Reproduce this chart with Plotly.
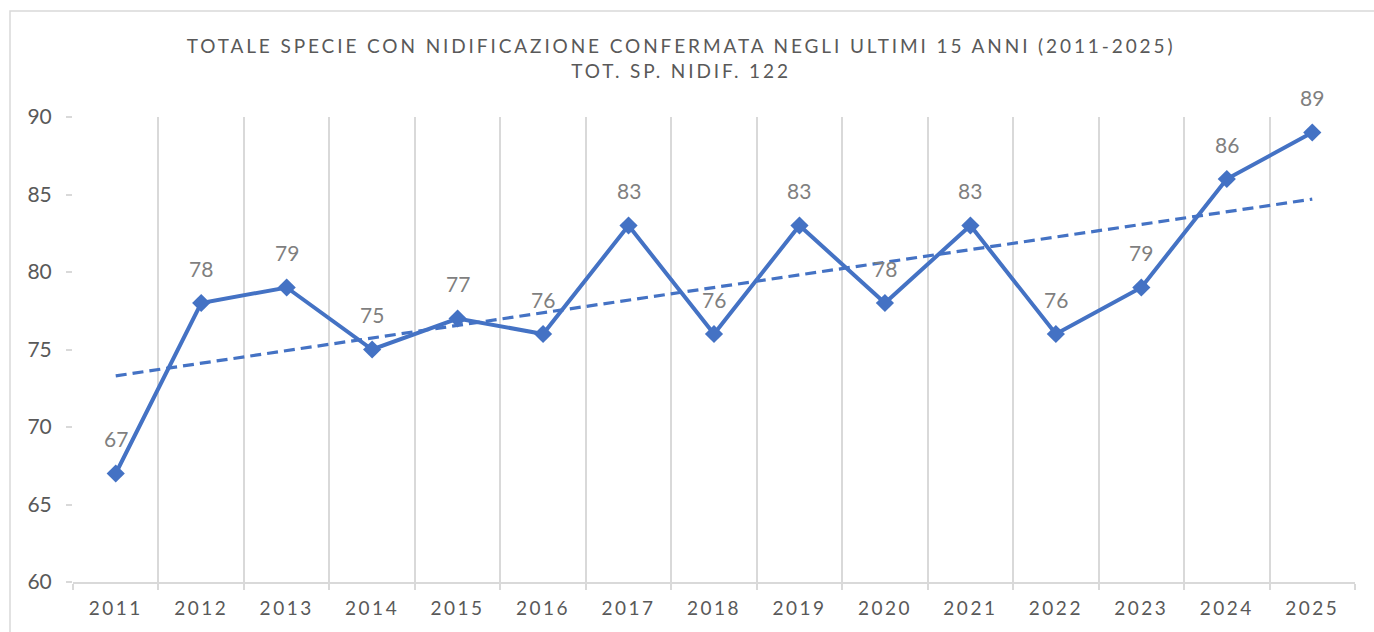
import numpy as np
import plotly.graph_objects as go

years = ["2011", "2012", "2013", "2014", "2015", "2016", "2017", "2018",
         "2019", "2020", "2021", "2022", "2023", "2024", "2025"]
species = [67, 78, 79, 75, 77, 76, 83, 76, 83, 78, 83, 76, 79, 86, 89]
title_line1 = "TOTALE SPECIE CON NIDIFICAZIONE CONFERMATA NEGLI ULTIMI 15 ANNI (2011-2025)"
title_line2 = "TOT. SP. NIDIF. 122"
y_ticks = [60, 65, 70, 75, 80, 85, 90]

BLUE = "#4472C4"
GRID = "#D9D9D9"
TXT = "#595959"
LBL = "#7F7F7F"
FONT = "Lato"

W, H = 1374, 632
L, R, T, B = 73, 19, 117, 50
pw, ph = W - L - R, H - T - B

# linear trendline (least squares on the data, as the spreadsheet trendline)
idx = np.arange(len(species))
slope, intercept = np.polyfit(idx, species, 1)
trend = [intercept + slope * i for i in idx]

fig = go.Figure()
fig.add_trace(go.Scatter(
    x=years, y=trend, mode="lines",
    line=dict(color=BLUE, width=3.2, dash="11px,6px"),
    hoverinfo="skip", showlegend=False,
))
fig.add_trace(go.Scatter(
    x=years, y=species, mode="lines+markers",
    line=dict(color=BLUE, width=4),
    marker=dict(symbol="diamond", size=14, color=BLUE),
    showlegend=False,
))

for i, v in enumerate(species):
    fig.add_annotation(x=i, y=v, text=str(v), showarrow=False, yshift=35,
                       font=dict(family=FONT, size=21, color=LBL))

# outer chart border
fig.add_shape(type="rect", xref="paper", yref="paper",
              x0=(10 - L) / pw, x1=(W + 10 - L) / pw,
              y0=(H - B - (H + 10)) / ph, y1=(H - B - 11) / ph,
              line=dict(color=GRID, width=1.5), fillcolor="rgba(0,0,0,0)", layer="below")

fig.update_layout(
    width=W, height=H,
    margin=dict(l=L, r=R, t=T, b=B),
    paper_bgcolor="white", plot_bgcolor="white",
    title=dict(text=title_line1 + "<br>" + title_line2,
               x=681 / W, xref="container", xanchor="center",
               y=1 - 53 / H, yref="container", yanchor="middle",
               font=dict(family=FONT, size=19, color=TXT)),
    xaxis=dict(type="category", range=[-0.5, len(years) - 0.5],
               tickson="boundaries", showgrid=True, gridcolor=GRID, gridwidth=1.5,
               showline=True, linecolor=GRID, linewidth=1.5,
               ticks="outside", ticklen=6, tickcolor=GRID, tickwidth=1.5,
               tickfont=dict(family=FONT, size=19, color=TXT),
               ticklabelstandoff=8, zeroline=False),
    yaxis=dict(range=[60, 90], tickvals=y_ticks, showgrid=False,
               showline=False, zeroline=False,
               ticks="outside", ticklen=6, tickcolor=GRID, tickwidth=1.5,
               tickfont=dict(family=FONT, size=21, color=TXT),
               ticklabelstandoff=10),
)

post = """
document.body.style.margin = '0';
document.body.style.overflow = 'hidden';
var gd = document.getElementById('{plot_id}');
function ls(){
  gd.querySelectorAll('.gtitle').forEach(function(e){ e.style.letterSpacing = '2.9px'; });
  gd.querySelectorAll('.xtick text').forEach(function(e){ e.style.letterSpacing = '2.5px'; });
}
ls();
gd.on('plotly_afterplot', ls);
"""
fig.write_html("out.html", post_script=post, config={"displayModeBar": False})
